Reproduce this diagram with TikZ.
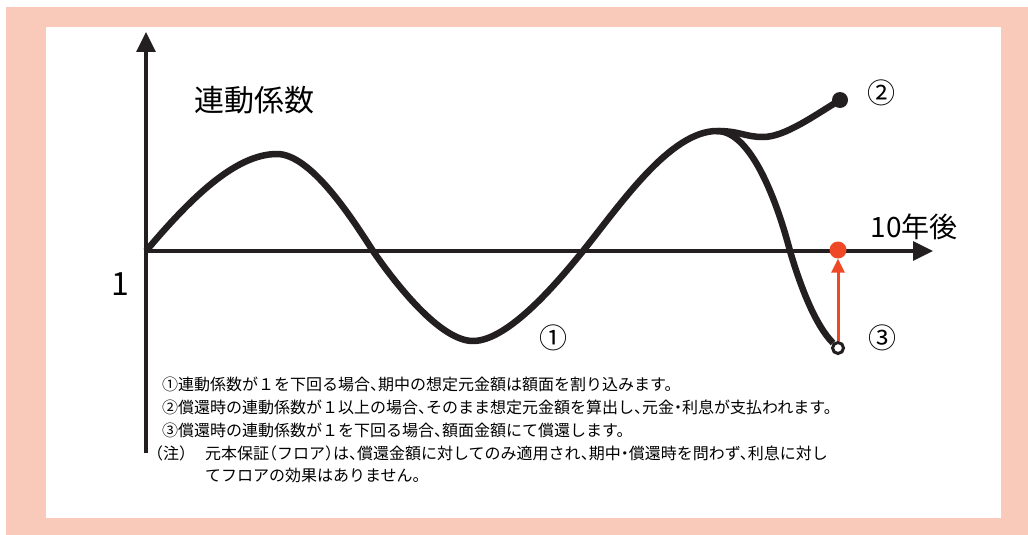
\documentclass[tikz,border=0pt]{standalone}
\usepackage{fontspec}
\setmainfont{Noto Sans CJK JP}
\newfontfamily\notefont[RawFeature=+halt]{Noto Sans CJK JP}
\usetikzlibrary{arrows.meta}
\definecolor{floorpink}{RGB}{249,201,186}
\definecolor{floorred}{RGB}{238,72,38}
\definecolor{inkblack}{RGB}{35,31,32}

\begin{document}
\begin{tikzpicture}[x=1pt, y=-1pt,
  curve/.style={inkblack, line width=6.5pt, line join=round},
  axis/.style={inkblack, line width=3.2pt, -{Triangle[length=20pt,width=19pt]}},
  big/.style={inner sep=0pt, font=\fontsize{28}{30}\selectfont},
  note/.style={anchor=west, inner sep=0pt, font=\notefont\fontsize{16}{18}\selectfont}]

\useasboundingbox (0,0) rectangle (1028,535);
\fill[floorpink] (6,7) rectangle (1028,535);
\fill[white] (46,27) rectangle (1001,518);

\coordinate (O) at (146,251);
\coordinate (Xend) at (933,251);
\coordinate (Ytop) at (146,32);
\coordinate (Ybot) at (146,453);

\draw[axis] (O) -- (Xend);
\draw[axis] (Ybot) -- (Ytop);

\coordinate (peak1) at (277,154);
\coordinate (cross1) at (373,251);
\coordinate (trough) at (473,341);
\coordinate (cross2) at (583,251);
\coordinate (peak2) at (717,131);
\coordinate (dip) at (763,137);
\coordinate (cross3) at (790,251);

\node[circle, fill=inkblack, inner sep=0pt, minimum size=16pt] (end2) at (840,100) {};
\node[circle, draw=inkblack, line width=3pt, fill=white, inner sep=0pt, minimum size=11pt] (end3) at (838,348) {};
\node[circle, fill=floorred, inner sep=0pt, minimum size=17pt] (par) at (838,250) {};

\draw[curve] (O) .. controls (190,199) and (235,154) .. (peak1)
  .. controls (310,154) and (350,215) .. (cross1)
  .. controls (395,283) and (440,341) .. (trough)
  .. controls (508,341) and (557,283) .. (cross2)
  .. controls (620,205) and (670,131) .. (peak2);
\draw[curve] (peak2) .. controls (740,131) and (745,137) .. (dip)
  .. controls (785,137) and (815,115) .. (end2.center);
\draw[curve] (peak2) .. controls (752,131) and (778,205) .. (cross3)
  .. controls (800,285) and (815,325) .. (end3);

\draw[floorred, line width=3pt, -{Triangle[length=14pt,width=13pt]}] (end3) -- (par);

\node[inner sep=0pt, font=\fontsize{30}{32}\selectfont] (title) at (254,100) {連動係数};
\node[big] (tenyr) at (914,227) {10年後};
\node[inner sep=0pt, font=\fontsize{32}{34}\selectfont] (one) at (120,284) {1};
\node[big] (lab1) at (553,338) {①};
\node[big] (lab2) at (881,93) {②};
\node[big] (lab3) at (882,338) {③};

\node[note] (note1) at (162,384) {①連動係数が１を下回る場合、期中の想定元金額は額面を割り込みます。};
\node[note] (note2) at (162,407) {②償還時の連動係数が１以上の場合、そのまま想定元金額を算出し、元金・利息が支払われます。};
\node[note] (note3) at (162,430) {③償還時の連動係数が１を下回る場合、額面金額にて償還します。};
\node[note] (note4) at (147,453) {\makebox[58pt][l]{\makebox[16pt][r]{（}注\makebox[16pt][l]{）}}元本保証（フロア）は、償還金額に対してのみ適用され、期中・償還時を問わず、利息に対し};
\node[note] (note5) at (205,475) {てフロアの効果はありません。};

\end{tikzpicture}
\end{document}
